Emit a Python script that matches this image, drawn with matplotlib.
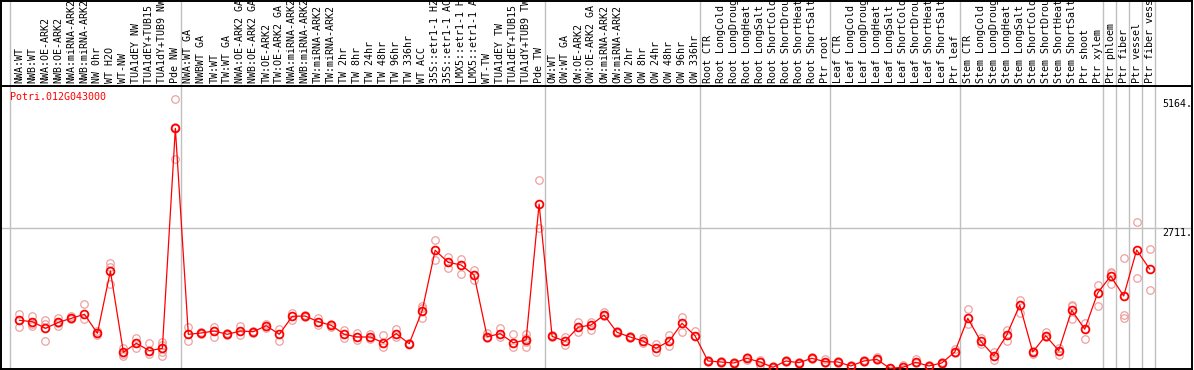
import matplotlib
matplotlib.use("Agg")
import matplotlib.pyplot as plt

gene = "Potri.012G043000"

samples = [
    # NW
    "NWA:WT", "NWB:WT", "NWA:OE-ARK2", "NWB:OE-ARK2", "NWA:miRNA-ARK2", "NWB:miRNA-ARK2",
    "NW 0hr", "WT H2O", "WT-NW", "TUA1dEY NW", "TUA1dEY+TUB15 NW", "TUA1dY+TUB9 NW", "Pde NW",
    # GA / TW
    "NWA:WT GA", "NWBWT GA", "TW:WT", "TW:WT GA", "NWA:OE-ARK2 GA", "NWB:OE-ARK2 GA",
    "TW:OE-ARK2", "TW:OE-ARK2 GA", "NWA:miRNA-ARK2 GA", "NWB:miRNA-ARK2 GA", "TW:miRNA-ARK2",
    "TW:miRNA-ARK2", "TW 2hr", "TW 8hr", "TW 24hr", "TW 48hr", "TW 96hr", "TW 336hr", "WT ACC",
    "35S::etr1-1 H2O", "35S::etr1-1 ACC", "LMX5::etr1-1 H2O", "LMX5::etr1-1 ACC", "WT-TW",
    "TUA1dEY TW", "TUA1dEY+TUB15 TW", "TUA1dY+TUB9 TW", "Pde TW",
    # OW
    "OW:WT", "OW:WT GA", "OW:OE-ARK2", "OW:OE-ARK2 GA", "OW:miRNA-ARK2", "OW:miRNA-ARK2",
    "OW 2hr", "OW 8hr", "OW 24hr", "OW 48hr", "OW 96hr", "OW 336hr",
    # root
    "Root CTR", "Root LongCold", "Root LongDrought", "Root LongHeat", "Root LongSalt",
    "Root ShortCold", "Root ShortDrought", "Root ShortHeat", "Root ShortSalt", "Ptr root",
    # leaf
    "Leaf CTR", "Leaf LongCold", "Leaf LongDrought", "Leaf LongHeat", "Leaf LongSalt",
    "Leaf ShortCold", "Leaf ShortDrought", "Leaf ShortHeat", "Leaf ShortSalt", "Ptr leaf",
    # stem
    "Stem CTR", "Stem LongCold", "Stem LongDrought", "Stem LongHeat", "Stem LongSalt",
    "Stem ShortCold", "Stem ShortDrought", "Stem ShortHeat", "Stem ShortSalt", "Ptr shoot",
    "Ptr xylem", "Ptr phloem", "Ptr fiber", "Ptr vessel", "Ptr fiber vessel",
]

# index of the last sample in each block (a grey separator follows it)
group_ends = [12, 40, 52, 62, 72, 83, 84, 85, 86, 87]

means = [
    960, 933, 808, 922, 998, 1074, 713, 1895, 353, 524, 383, 429, 4602,
    694, 719, 757, 694, 757, 744, 857, 694, 1036, 1041, 933, 865, 694, 643, 643, 535,
    706, 516, 1142, 2288, 2060, 2009, 1814, 649, 706, 535, 586, 3166,
    656, 563, 827, 871, 1060, 732, 643, 567, 429, 562, 903, 668,
    188, 169, 150, 239, 169, 68, 188, 156, 239, 175,
    169, 93, 188, 220, 49, 68, 163, 93, 150, 359,
    998, 562, 288, 681, 1250, 359, 668, 383, 1151, 791, 1478,
    1800, 1421, 2293, 1933,
]

replicates = [
    [1079, 960, 827], [1047, 895, 857], [960, 891, 573], [1009, 900, 857], [1041, 979],
    [1263, 979], [757, 687], [2053, 1977, 1643], [440, 330, 288], [630, 429], [524, 315],
    [554, 491, 359, 288], [5164, 4622, 4020],
    [827, 573], [744, 694], [838, 649], [713, 675], [857, 681], [763, 725], [884, 820],
    [795, 573], [1104, 969], [1060, 1028], [998, 871], [890, 838], [776, 618], [713, 586],
    [694, 599], [681, 459], [795, 649], [535, 505], [1230, 1188, 998], [2478, 2104],
    [2166, 1958], [2123, 1838], [1914, 1724], [725, 618], [820, 649], [694, 459],
    [694, 630, 540, 459], [3616, 2717],
    [681, 637], [649, 482], [922, 732], [922, 776], [1112, 1041], [763, 713], [662, 624],
    [618, 535], [510, 353], [681, 472], [1017, 732], [757, 662],
    [207, 163], [185, 150], [170, 130], [264, 207], [207, 112], [85, 50], [205, 170],
    [175, 140], [260, 220], [220, 144],
    [185, 150], [110, 75], [205, 170], [258, 207], [62, 40], [112, 40], [226, 144],
    [110, 75], [170, 130], [415, 334],
    [1169, 884], [618, 510], [364, 207], [776, 573], [1345, 1104], [383, 321], [744, 649],
    [429, 302], [1250, 1225, 979], [903, 599], [1639, 1231],
    [1882, 1857, 1643], [2136, 1060, 1009], [2819, 1757], [2312, 1535],
]

ref_values = [5164, 2711]

W, H = 1194, 370
RED = "#ff0000"
PINK = "#eea0a0"
GREY = "#c0c0c0"
MONO = "DejaVu Sans Mono"

fig = plt.figure(figsize=(W / 100, H / 100), dpi=100)


def px_axes(x0, y0, x1, y1):
    return fig.add_axes([x0 / W, 1 - y1 / H, (x1 - x0) / W, (y1 - y0) / H])


ax = px_axes(0.5, 86, 1192, 369)
lab = px_axes(0.5, 0.5, 1192, 86)

xlim = (-1.46, 90.26)
for a in (ax, lab):
    a.set_xlim(*xlim)
    a.set_xticks([]); a.set_yticks([])
    for s in a.spines.values():
        s.set_color("black"); s.set_linewidth(1.4)
    a.axvline(-0.73, color=GREY, lw=1, zorder=0)
    for g in group_ends:
        a.axvline(g + 0.42, color=GREY, lw=1, zorder=0)
lab.set_ylim(0, 1)
ax.set_ylim(36, 5405)

ax.axhline(ref_values[1], color=GREY, lw=1, zorder=0)

xs = list(range(len(samples)))
for i, reps in enumerate(replicates):
    ax.plot([i] * len(reps), reps, "o", ms=5.4, mfc="none", mec=PINK, mew=0.9,
            zorder=2, clip_on=False)
ax.plot(xs, means, "-", color=RED, lw=0.9, zorder=3)
ax.plot(xs, means, "o", ms=5.6, mfc="none", mec=RED, mew=1.3, zorder=4, clip_on=False)

for i, name in enumerate(samples):
    lab.text(i, 0.03, name, rotation=90, ha="center", va="bottom", family=MONO,
             fontsize=7.2, color="black")

ax.text(0.008, 0.961, gene, transform=ax.transAxes, ha="left", va="center",
        family=MONO, fontsize=7.2, color=RED)
n = len(samples)
for v in ref_values:
    ax.text(n, v, f"{v}.", ha="left", va="top", family=MONO, fontsize=7.2,
            color="black")
ax.text(n, 0.01, "0", transform=ax.get_yaxis_transform(), ha="left", va="bottom",
        family=MONO, fontsize=7.2, color="black")

fig.savefig("out.png", dpi=100)
